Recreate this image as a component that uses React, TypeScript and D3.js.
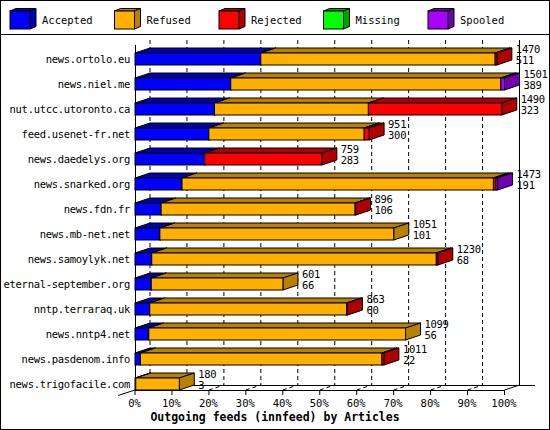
import * as d3 from "d3";

const hosts = [
  "news.ortolo.eu",
  "news.niel.me",
  "nut.utcc.utoronto.ca",
  "feed.usenet-fr.net",
  "news.daedelys.org",
  "news.snarked.org",
  "news.fdn.fr",
  "news.mb-net.net",
  "news.samoylyk.net",
  "eternal-september.org",
  "nntp.terraraq.uk",
  "news.nntp4.net",
  "news.pasdenom.info",
  "news.trigofacile.com",
];
const accepted = [511, 389, 323, 300, 283, 191, 106, 101, 68, 66, 60, 56, 22, 3];
const refused = [952, 1097, 625, 631, 0, 1265, 788, 950, 1156, 535, 800, 1043, 981, 177];
const rejected = [7, 0, 542, 20, 476, 10, 2, 0, 6, 0, 3, 0, 8, 0];
const missing = [0, 0, 0, 0, 0, 0, 0, 0, 0, 0, 0, 0, 0, 0];
const spooled = [0, 15, 0, 0, 0, 7, 0, 0, 0, 0, 0, 0, 0, 0];

const seriesNames = ["Accepted", "Refused", "Rejected", "Missing", "Spooled"];
const seriesValues = [accepted, refused, rejected, missing, spooled];
const colors = ["#0000ff", "#ffb000", "#ff0000", "#00ff00", "#aa00ff"];
const shades = ["#0000b0", "#b88200", "#b00000", "#00a000", "#7000b0"];
const pctTicks = [0, 10, 20, 30, 40, 50, 60, 70, 80, 90, 100];
const title = "Outgoing feeds (innfeed) by Articles";

const mono = "'DejaVu Sans Mono', 'Liberation Mono', monospace";

const pts = (p: number[][]) => p.map((d) => d.join(",")).join(" ");

export default function App() {
  const W = 550,
    H = 430;
  const dx = 15,
    dy = 5,
    barH = 12;
  const left = 135,
    right = 504.5,
    top = 40,
    bottom = 390;

  const table = hosts.map((h, i) => {
    const row: Record<string, any> = { host: h };
    seriesNames.forEach((n, j) => (row[n] = seriesValues[j][i]));
    return row;
  });
  const stacked = d3.stack<any>().keys(seriesNames)(table);
  const totals = hosts.map((_, i) => d3.sum(seriesValues, (s) => s[i]));
  const max = d3.max(totals) || 1;

  const x = d3.scaleLinear().domain([0, max]).range([left, right]);
  const pct = d3.scaleLinear().domain([0, 100]).range([left, right]);
  const y = d3.scaleBand().domain(hosts).range([top, bottom]);
  const legendX = d3.scaleLinear().domain([0, 1]).range([10, 114.5]);

  const bars: JSX.Element[] = [];
  hosts.forEach((h, i) => {
    const yb = y(h)! + y.bandwidth();
    const yt = yb - barH;
    stacked.forEach((s, j) => {
      const x0 = x(s[i][0]),
        x1 = x(s[i][1]);
      if (x1 - x0 <= 0) return;
      bars.push(
        <g key={`${h}-${j}`} stroke="#000" strokeWidth={1} strokeLinejoin="miter">
          <polygon
            points={pts([
              [x0, yt],
              [x1, yt],
              [x1 + dx, yt - dy],
              [x0 + dx, yt - dy],
            ])}
            fill={shades[j]}
          />
          <polygon
            points={pts([
              [x1, yt],
              [x1 + dx, yt - dy],
              [x1 + dx, yb - dy],
              [x1, yb],
            ])}
            fill={shades[j]}
          />
          <rect x={x0} y={yt} width={x1 - x0} height={barH} fill={colors[j]} />
        </g>
      );
    });
  });

  return (
    <>
      <style>{"body{margin:0}"}</style>
      <svg width={W} height={H} style={{ display: "block" }} fontFamily={mono}>
        <rect x={0} y={0} width={W} height={H} fill="#fff" />
        <rect x={0.5} y={0.5} width={W - 1} height={H - 1} fill="none" stroke="#000" />
        <line x1={0} x2={W} y1={34.5} y2={34.5} stroke="#000" />

        {/* legend */}
        {seriesNames.map((n, j) => {
          const lx = legendX(j);
          return (
            <g key={n} stroke="#000">
              <polygon
                points={pts([
                  [lx, 11],
                  [lx + 20, 11],
                  [lx + 26, 8.5],
                  [lx + 6, 8.5],
                ])}
                fill={shades[j]}
              />
              <polygon
                points={pts([
                  [lx + 20, 11],
                  [lx + 26, 8.5],
                  [lx + 26, 26.5],
                  [lx + 20, 29],
                ])}
                fill={shades[j]}
              />
              <rect x={lx} y={11} width={20} height={18} fill={colors[j]} />
              <text x={lx + 32} y={24} fontSize={10.5} stroke="none" fill="#000">
                {n}
              </text>
            </g>
          );
        })}

        {/* back wall grid */}
        {pctTicks.slice(0, -1).map((t) => (
          <line
            key={`g${t}`}
            x1={pct(t) + dx}
            x2={pct(t) + dx}
            y1={top}
            y2={bottom - dy}
            stroke="#000"
            strokeDasharray="4,3"
          />
        ))}
        <line x1={right + dx} x2={right + dx} y1={top} y2={bottom - dy} stroke="#000" />
        <line x1={left + dx} x2={535} y1={bottom - dy + 0.5} y2={bottom - dy + 0.5} stroke="#000" />

        {/* floor */}
        {pctTicks.slice(1, -1).map((t) => (
          <line
            key={`f${t}`}
            x1={pct(t)}
            y1={bottom}
            x2={pct(t) + dx}
            y2={bottom - dy}
            stroke="#000"
            strokeDasharray="4,3"
          />
        ))}
        <line x1={right} y1={bottom} x2={right + dx} y2={bottom - dy} stroke="#000" />
        <line x1={left} x2={right} y1={bottom + 0.5} y2={bottom + 0.5} stroke="#000" />
        <line x1={left - 17} y1={bottom + 5.5} x2={left} y2={bottom} stroke="#000" />
        <line x1={left + 0.5} x2={left + 0.5} y1={top + dy} y2={bottom} stroke="#000" />

        {pctTicks.map((t) => (
          <g key={`t${t}`}>
            <line x1={pct(t)} x2={pct(t)} y1={bottom} y2={bottom + 5} stroke="#000" />
            <text x={pct(t) - 0.5} y={406.5} fontSize={10.5} textAnchor="middle">
              {t}%
            </text>
          </g>
        ))}

        {bars}

        {/* category labels */}
        {hosts.map((h) => (
          <text
            key={`l${h}`}
            x={130}
            y={y(h)! + y.bandwidth() - 2}
            fontSize={10.5}
            textAnchor="end"
            letterSpacing={-0.3}
          >
            {h}
          </text>
        ))}

        {/* value labels */}
        {hosts.map((h, i) => {
          const yb = y(h)! + y.bandwidth();
          const lx = x(totals[i]) + 19;
          return (
            <g key={`v${h}`} fontSize={10.5}>
              <text x={lx} y={yb - 12} letterSpacing={-0.3}>
                {totals[i]}
              </text>
              <text x={lx} y={yb - 1} letterSpacing={-0.3}>
                {accepted[i]}
              </text>
            </g>
          );
        })}

        <text x={W / 2} y={421} fontSize={11.5} fontWeight="bold" textAnchor="middle">
          {title}
        </text>
      </svg>
    </>
  );
}
